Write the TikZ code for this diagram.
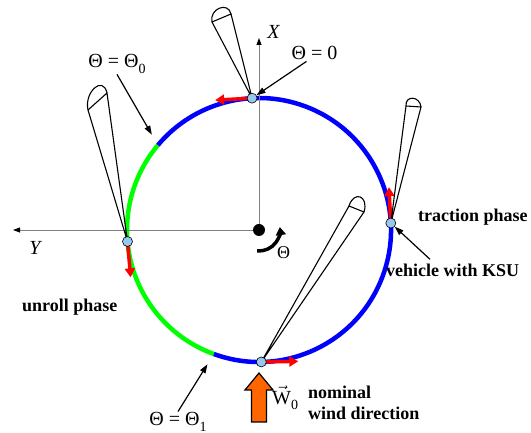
\documentclass[tikz,border=0pt]{standalone}
\usepackage{fontspec}
\setmainfont{Liberation Serif}
\usepackage{amsmath}
\usetikzlibrary{arrows.meta}

\definecolor{kiteblue}{RGB}{150,200,240}
\definecolor{windorange}{RGB}{255,102,0}

\newcommand{\lowsub}[1]{\raisebox{-0.55ex}{\fontsize{14}{14}\selectfont #1}}
% apex, divider ends, bulge of the cap
\newcommand{\drawkite}[4]{%
  \draw[kite] #2 -- #1 -- #3 -- cycle;
  \draw[kite] #2 .. controls +#4 and +#4 .. #3;}

\begin{document}
\begin{tikzpicture}[x=1pt, y=1pt,
          track/.style={line width=4.5pt},
          velo/.style={red, line width=3.5pt, -{Triangle[length=9pt,width=10pt]}},
          kite/.style={black, line width=1.1pt, line join=round},
          kpt/.style={circle, draw=black, line width=0.6pt, fill=kiteblue, minimum size=10pt, inner sep=0pt},
          axis/.style={draw=black!50, line width=0.8pt, -{Triangle[length=7pt,width=5pt,black]}},
          pointer/.style={black, line width=1.2pt, -{Triangle[length=9pt,width=6pt]}},
          lbl/.style={font=\fontsize{18}{20}\selectfont\bfseries, inner sep=0pt},
          sym/.style={font=\fontsize{20}{22}\selectfont, inner sep=1pt},
        ]
        \useasboundingbox (0,0) rectangle (531,433);
        \begin{scope}[shift={(259,203)}]
        % flight path
        \draw[track, green] (140:132) arc[start angle=140, end angle=250, radius=132];
        \draw[track, blue] (250:132) arc[start angle=250, end angle=500, radius=132];
        \coordinate (t0) at (140:132);
        \coordinate (t1) at (250:132);

        % axes
        \node[circle, fill=black, minimum size=12pt, inner sep=0pt] (O) at (0,0) {};
        \coordinate (xend) at (0,192);
        \coordinate (yend) at (-246,0);
        \draw[axis] (O) -- (xend);
        \draw[axis] (O) -- (yend);
        \node[sym, anchor=base, font=\fontsize{20}{22}\selectfont\itshape] (xlab) at (14.5,191) {X};
        \node[sym, anchor=base, font=\fontsize{20}{22}\selectfont\itshape] (ylab) at (-224,-25) {Y};
        \draw[black, line width=3.5pt, -{Triangle[length=8pt,width=10pt]}]
          (-95:21) arc[start angle=-95, end angle=8, radius=21];
        \node[sym, font=\fontsize{18}{20}\selectfont] (theta) at (24.5,-22.5) {Θ};

        % kite positions
        \coordinate (ktop) at (93:132);
        \coordinate (kleft) at (185:132);
        \coordinate (kright) at (3:132);
        \coordinate (kbot) at (271:132);

        \draw[velo] (ktop) -- ++(183:37);
        \draw[velo] (kleft) -- ++(275:36);
        \draw[velo] (kright) -- ++(93:36);
        \draw[velo] (kbot) -- ++(1:37);

        \drawkite{(ktop)}{(-47,208)}{(-28,216)}{(-3,13)}
        \drawkite{(kleft)}{(-171,120)}{(-152,137)}{(-4,18)}
        \drawkite{(kright)}{(147,124)}{(162,123)}{(-1,11)}
        \drawkite{(kbot)}{(90,24)}{(105,18)}{(5,16)}

        \node[kpt] (kt) at (ktop) {};
        \node[kpt] (kl) at (kleft) {};
        \node[kpt] (kr) at (kright) {};
        \node[kpt] (kb) at (kbot) {};

        % labels
        \node[sym, anchor=base] (thzero) at (55.5,170) {Θ = 0};
        \draw[pointer] ([xshift=-8pt]thzero.south) -- (kt);
        \node[sym, anchor=base] (thstart) at (-142,162) {Θ = Θ\lowsub{0}};
        \draw[pointer, shorten >=12pt] (thstart.south) -- (t0);
        \node[sym, anchor=base] (thend) at (-81,-196) {Θ = Θ\lowsub{1}};
        \draw[pointer, shorten >=12pt] (thend.north) -- (t1);

        \node[lbl, anchor=base west] (traction) at (159,8.5) {traction phase};
        \node[lbl, anchor=base west] (unroll) at (-237,-82) {unroll phase};
        \node[lbl, anchor=base west] (vehicle) at (127,-47) {vehicle with KSU};
        \draw[pointer] ([xshift=44pt,yshift=5pt]vehicle.north west) -- (kr);

        % wind
        \draw[fill=windorange, draw=black, line width=1.2pt]
          (-7.5,-192) -- (-7.5,-160) -- (-14,-160) -- (0,-143) -- (14,-160) -- (7.5,-160) -- (7.5,-192) -- cycle;
        \node[sym, anchor=west, inner sep=0pt] (wzero) at (13,-168) {$\vec{\text{W}}$\lowsub{0}};
        \node[lbl, anchor=base west] (nominal) at (49,-168.5) {nominal};
        \node[lbl, anchor=base west] (winddir) at (49,-189.5) {wind direction};
        \end{scope}
      \end{tikzpicture}
\end{document}
